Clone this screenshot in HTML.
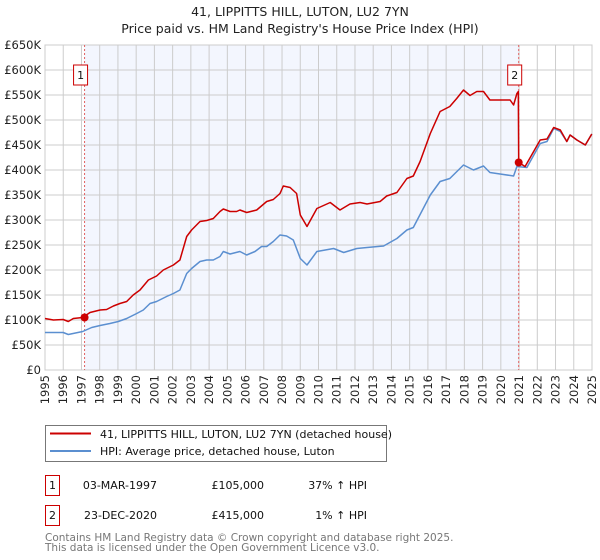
<!DOCTYPE html>
<html><head><meta charset="utf-8"><style>
body{margin:0;background:#fff;width:600px;height:560px;overflow:hidden}
svg{display:block;font-family:"DejaVu Sans","Liberation Sans",sans-serif}
</style></head><body>
<svg id="chart" width="600" height="560">
<text x="300" y="16" text-anchor="middle" font-size="12.5" fill="#222">41, LIPPITTS HILL, LUTON, LU2 7YN</text>
<text x="300" y="33" text-anchor="middle" font-size="12.5" fill="#222">Price paid vs. HM Land Registry's House Price Index (HPI)</text>
<g id="plot"></g>
<g>
<rect x="45.5" y="425.5" width="341" height="36" fill="#fff" stroke="#777"/>
<line x1="50" y1="433.5" x2="91" y2="433.5" stroke="#cc0000" stroke-width="2"/>
<text x="100" y="438" font-size="11" fill="#111">41, LIPPITTS HILL, LUTON, LU2 7YN (detached house)</text>
<line x1="50" y1="451" x2="91" y2="451" stroke="#5b8fd0" stroke-width="2"/>
<text x="100" y="455" font-size="11" fill="#111">HPI: Average price, detached house, Luton</text>
</g>
<g font-size="11" fill="#111">
<rect x="45.5" y="475.5" width="14" height="20" fill="#fff" stroke="#cc0000"/>
<text x="52.5" y="489" text-anchor="middle">1</text>
<text x="157" y="489" text-anchor="end">03-MAR-1997</text>
<text x="264" y="489" text-anchor="end">£105,000</text>
<text x="367" y="489" text-anchor="end">37% ↑ HPI</text>
<rect x="45.5" y="505.5" width="14" height="20" fill="#fff" stroke="#cc0000"/>
<text x="52.5" y="519" text-anchor="middle">2</text>
<text x="157" y="519" text-anchor="end">23-DEC-2020</text>
<text x="264" y="519" text-anchor="end">£415,000</text>
<text x="367" y="519" text-anchor="end">1% ↑ HPI</text>
</g>
<text x="45" y="541" font-size="10.5" fill="#777">Contains HM Land Registry data © Crown copyright and database right 2025.</text>
<text x="45" y="551" font-size="10.5" fill="#777">This data is licensed under the Open Government Licence v3.0.</text>
</svg>
<script>
const hpiYears=[1995,1996,1996.28,1997.07,1997.56,1998.02,1998.56,1999.02,1999.48,2000.03,2000.39,2000.76,2001.12,2001.67,2002.04,2002.4,2002.77,2003.04,2003.5,2003.87,2004.23,2004.6,2004.78,2005.15,2005.69,2006.06,2006.52,2006.88,2007.16,2007.52,2007.89,2008.25,2008.62,2009.0,2009.37,2009.91,2010.83,2011.38,2012.1,2012.66,2013.57,2014.3,2014.85,2015.2,2016.13,2016.67,2017.2,2017.95,2018.5,2019.05,2019.4,2019.96,2020.7,2020.88,2021.43,2022.16,2022.53,2022.9,2023.26,2023.62,2023.8,2024.17,2024.63,2024.99];
const hpiValues=[75,75,71,77,85,89,93,97,103,113,120,133,137,147,153,160,193,203,217,220,220,227,237,232,237,230,237,247,247,257,270,268,260,223,210,237,243,235,243,245,248,263,280,285,350,377,383,410,400,408,395,392,388,407,405,453,457,483,477,457,470,460,450,472];
const redYears=[1995,1995.46,1996,1996.28,1996.55,1997.07,1997.47,1998.02,1998.38,1998.75,1999.11,1999.48,1999.84,2000.21,2000.67,2001.12,2001.49,2002.04,2002.4,2002.77,2003.04,2003.5,2003.87,2004.23,2004.6,2004.78,2005.15,2005.51,2005.69,2006.06,2006.61,2007.16,2007.52,2007.89,2008.07,2008.44,2008.8,2009.0,2009.37,2009.91,2010.64,2011.18,2011.73,2012.28,2012.66,2013.38,2013.74,2014.3,2014.85,2015.2,2015.57,2016.13,2016.67,2017.2,2017.58,2017.95,2018.31,2018.68,2019.05,2019.4,2019.96,2020.51,2020.7,2020.88,2020.96,2020.98,2021.33,2022.16,2022.53,2022.9,2023.26,2023.62,2023.8,2024.17,2024.63,2024.99];
const redValues=[103,100,101,97,103,105,115,120,121,128,133,137,150,160,180,188,200,210,220,267,280,297,299,303,317,322,317,317,320,315,320,337,341,353,368,365,353,310,287,323,335,320,332,335,332,337,348,355,383,388,417,473,517,527,543,560,549,557,557,540,540,540,530,553,557,415,407,460,462,485,480,457,470,460,450,472];
const saleYears=[1997.17,2020.98];
const saleValues=[105,415];
const saleLabels=["1","2"];
const yTicks=[0,50,100,150,200,250,300,350,400,450,500,550,600,650];
const yTickLabels=["£0","£50K","£100K","£150K","£200K","£250K","£300K","£350K","£400K","£450K","£500K","£550K","£600K","£650K"];
const xTicks=[1995,1996,1997,1998,1999,2000,2001,2002,2003,2004,2005,2006,2007,2008,2009,2010,2011,2012,2013,2014,2015,2016,2017,2018,2019,2020,2021,2022,2023,2024,2025];

const X0=45,X1=592,Y0=370,Y1=45;
const xs=y=>X0+(y-1995)/30*(X1-X0);
const ys=v=>Y0-v/650*(Y0-Y1);
const NS="http://www.w3.org/2000/svg";
const plot=document.getElementById('plot');
function mk(tag,attrs,parent){const e=document.createElementNS(NS,tag);for(const k in attrs)e.setAttribute(k,attrs[k]);(parent||plot).appendChild(e);return e;}

const bg=mk('rect',{x:X0,y:Y1,width:X1-X0,height:Y0-Y1,fill:'#fff'});


const sh=mk('rect',{x:xs(saleYears[0]),y:Y1,width:xs(saleYears[1])-xs(saleYears[0]),height:Y0-Y1,fill:'#f3f6fe'});



yTicks.forEach((t,i)=>{
 const l=mk('line',{x1:X0,x2:X1,y1:ys(t),y2:ys(t),stroke:'#cccccc','stroke-width':1});
 
 
 const tx=mk('text',{x:X0-4,y:ys(t)+4,'text-anchor':'end','font-size':11.5,fill:'#222'});
 tx.textContent=yTickLabels[i];
 
 
});
xTicks.forEach(t=>{
 const l=mk('line',{x1:xs(t),x2:xs(t),y1:Y1,y2:Y0,stroke:'#cccccc','stroke-width':1});
 
 
 const tx=mk('text',{x:0,y:0,'text-anchor':'end','font-size':11.5,fill:'#222',transform:`translate(${xs(t)+4},${Y0+5}) rotate(-90)`});
 tx.textContent=t;
 
 
});
const fr=mk('rect',{x:X0,y:Y1,width:X1-X0,height:Y0-Y1,fill:'none',stroke:'#cccccc'});



saleYears.forEach((y,i)=>{
 const l=mk('line',{x1:xs(y),x2:xs(y),y1:Y1,y2:Y0,stroke:'#e06060','stroke-width':1,'stroke-dasharray':'2,2'});
 
 
});

const pts=(a,b)=>a.map((y,i)=>xs(y).toFixed(1)+','+ys(b[i]).toFixed(1)).join(' ');
const hp=mk('polyline',{points:pts(hpiYears,hpiValues),fill:'none',stroke:'#5b8fd0','stroke-width':1.5,'stroke-linejoin':'round'});


const rp=mk('polyline',{points:pts(redYears,redValues),fill:'none',stroke:'#cc0000','stroke-width':1.5,'stroke-linejoin':'round'});



saleYears.forEach((y,i)=>{
 const c=mk('circle',{cx:xs(y),cy:ys(saleValues[i]),r:4,fill:'#cc0000'});
 
 
 const bx=xs(y)-4;
 const r=mk('rect',{x:bx-7,y:65,width:14,height:20,fill:'#fff',stroke:'#cc0000'});
 
 
 const t=mk('text',{x:bx,y:79,'text-anchor':'middle','font-size':11,fill:'#111'});
 t.textContent=saleLabels[i];
 
 
});
</script>
</body></html>
